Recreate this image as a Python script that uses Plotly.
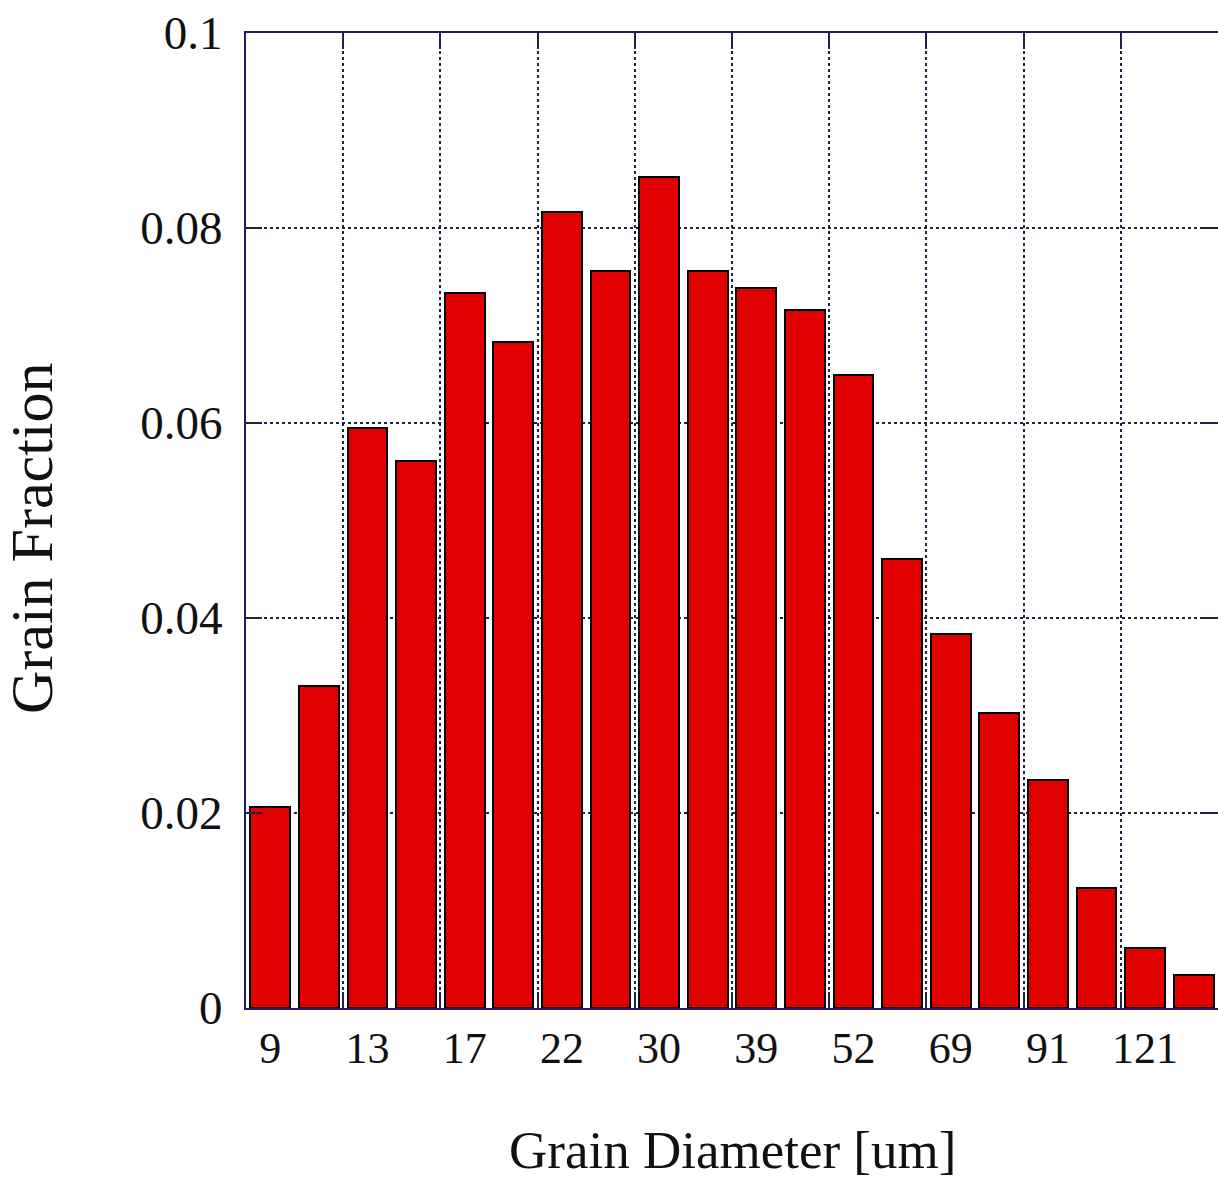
import plotly.graph_objects as go

# Data
bin_index = list(range(20))
grain_fraction = [0.0206, 0.0330, 0.0595, 0.0561, 0.0733, 0.0683, 0.0816, 0.0756,
                  0.0852, 0.0756, 0.0738, 0.0716, 0.0649, 0.0461, 0.0384, 0.0303,
                  0.0234, 0.0123, 0.0062, 0.0034]
tick_positions = [0, 2, 4, 6, 8, 10, 12, 14, 16, 18]
tick_labels = ["9", "13", "17", "22", "30", "39", "52", "69", "91", "121"]
grid_positions = [1.5, 3.5, 5.5, 7.5, 9.5, 11.5, 13.5, 15.5, 17.5]
y_ticks = [0, 0.02, 0.04, 0.06, 0.08, 0.1]
x_title = "Grain Diameter [um]"
y_title = "Grain Fraction"

AXIS = "#1c1c6b"
GRID = "#222244"
FONT = "Liberation Serif"
CLEAR = "rgba(0,0,0,0)"

fig = go.Figure()
fig.add_trace(go.Bar(
    x=bin_index, y=grain_fraction, width=0.82,
    marker=dict(color="#e00000", line=dict(color="#000000", width=2)),
    xaxis="x", yaxis="y", showlegend=False,
))
fig.add_trace(go.Scatter(x=[], y=[], xaxis="x2", yaxis="y", showlegend=False))
fig.add_trace(go.Scatter(x=[], y=[], xaxis="x", yaxis="y2", showlegend=False))

xr = [-0.5, 19.5]
fig.update_layout(
    width=1218, height=1182,
    margin=dict(l=246, r=0, t=33, b=174),
    paper_bgcolor="white", plot_bgcolor="white",
    font=dict(family=FONT, color="#000000", size=44),
    bargap=0,
    xaxis=dict(
        range=xr, tickvals=tick_positions, ticktext=tick_labels,
        ticks="", showgrid=False, zeroline=False,
        showline=True, linecolor=AXIS, linewidth=2, mirror=True,
        tickfont=dict(family=FONT, size=44, color="#111111"),
        ticklabelstandoff=0,
    ),
    xaxis2=dict(
        range=xr, overlaying="x", side="bottom", tickvals=grid_positions,
        showticklabels=False, ticks="inside", ticklen=16, tickwidth=2, tickcolor=GRID,
        mirror="ticks", showline=True, linecolor=CLEAR, zeroline=False,
        showgrid=True, griddash="dot", gridcolor=GRID, gridwidth=2,
    ),
    yaxis=dict(
        range=[0, 0.1], tickvals=y_ticks, ticks="inside", ticklen=16, tickwidth=2,
        tickcolor=GRID, showline=True, linecolor=AXIS, linewidth=2, mirror=False,
        zeroline=False, showgrid=True, griddash="dot", gridcolor=GRID, gridwidth=2,
        tickfont=dict(family=FONT, size=47, color="#111111"),
        ticklabelstandoff=12,
    ),
    yaxis2=dict(
        range=[0, 0.1], overlaying="y", side="right", tickvals=y_ticks,
        ticks="inside", ticklen=16, tickwidth=2, tickcolor=GRID,
        showticklabels=False, showline=True, linecolor=CLEAR,
        showgrid=False, zeroline=False,
    ),
    annotations=[
        dict(text=x_title, xref="paper", yref="paper", x=0.5, y=-0.146,
             xanchor="center", yanchor="middle", showarrow=False,
             font=dict(family=FONT, size=53, color="#111111")),
        dict(text=y_title, xref="paper", yref="paper", x=0, y=0.482,
             xanchor="center", yanchor="middle", xshift=-214, textangle=-90,
             showarrow=False, font=dict(family=FONT, size=60, color="#111111")),
    ],
)

fig.write_html("out.html")
